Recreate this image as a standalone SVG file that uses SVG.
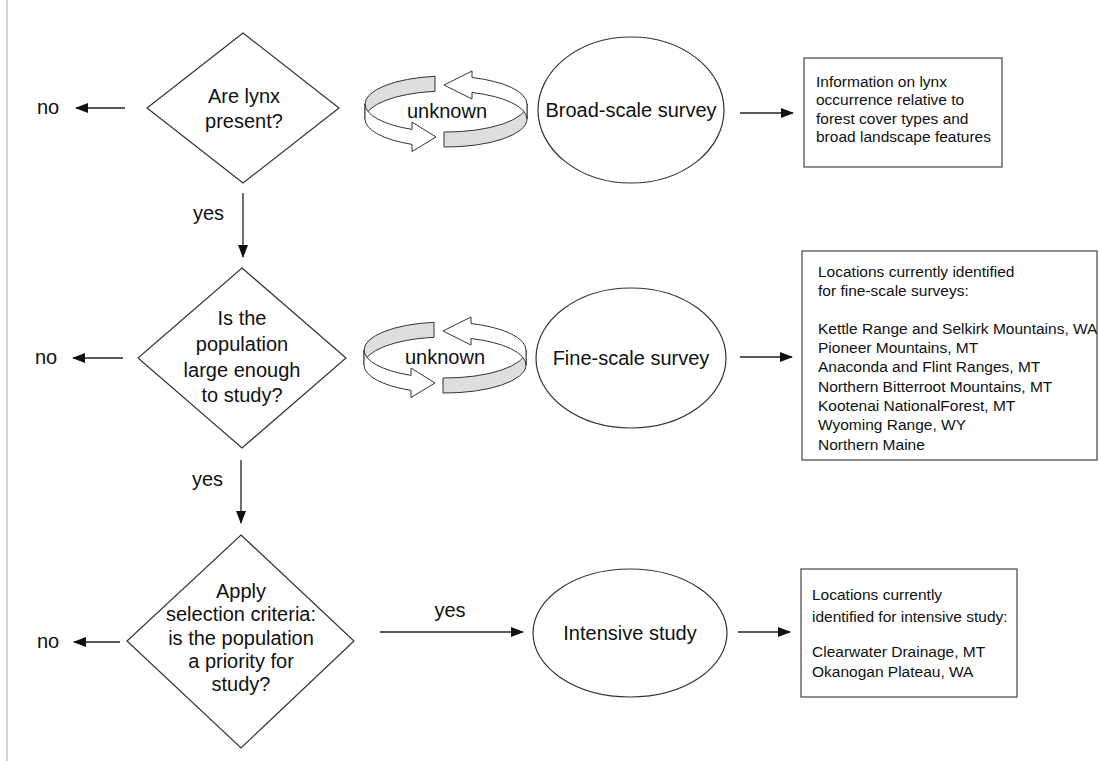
<svg xmlns="http://www.w3.org/2000/svg" xmlns:xlink="http://www.w3.org/1999/xlink" width="1099" height="761" viewBox="0 0 1099 761">
<style>
.shape{fill:#fff;stroke:#333;stroke-width:1.2}
.box{fill:#fff;stroke:#444;stroke-width:1.2}
.conn{stroke:#222;stroke-width:1.3;fill:none;marker-end:url(#ah)}
.t{font-family:"Liberation Sans",Arial,sans-serif;font-size:20px;fill:#111;text-anchor:middle}
.tl{font-family:"Liberation Sans",Arial,sans-serif;font-size:20px;fill:#111}
.bt{font-family:"Liberation Sans",Arial,sans-serif;font-size:15.5px;fill:#111}
.band{fill:#dedede;stroke:#333;stroke-width:1}
.arw{fill:#fff;stroke:#333;stroke-width:1}
</style>
<defs>
<marker id="ah" markerWidth="13" markerHeight="11" refX="12" refY="5" orient="auto" markerUnits="userSpaceOnUse">
<path d="M0,0 L13,5 L0,10 Z" fill="#111"/>
</marker>
<g id="ring">
<path class="band" d="M365,104 A81,28 0 0,1 435,76.3 L435,91.3 A81,28 0 0,0 365,119 Z"/>
<path class="band" d="M444,132 A81,28 0 0,0 527,104 L527,119 A81,28 0 0,1 444,147 Z"/>
<path class="arw" d="M444,85 L472,71 L472,77.5 A81,28 0 0,1 527,104 L527,119 A81,28 0 0,0 472,92.5 L472,99 Z"/>
<path class="arw" d="M365,104 A81,28 0 0,0 412,129.4 L412,122 L436,137 L412,151.5 L412,144.4 A81,28 0 0,1 365,119 Z"/>
</g>
</defs>
<rect width="1099" height="761" fill="#fff"/>
<line x1="7" y1="0" x2="7" y2="761" stroke="#c8c8c8" stroke-width="1.5"/>

<g id="connectors">
<line class="conn" x1="125" y1="108" x2="76" y2="108"/>
<line class="conn" x1="123" y1="358" x2="73" y2="358"/>
<line class="conn" x1="120" y1="642" x2="74" y2="642"/>
<line class="conn" x1="243" y1="193" x2="243" y2="257"/>
<line class="conn" x1="241" y1="460" x2="241" y2="523"/>
<line class="conn" x1="380" y1="632" x2="523" y2="632"/>
<line class="conn" x1="740" y1="113" x2="793" y2="113"/>
<line class="conn" x1="740" y1="357" x2="792" y2="357"/>
<line class="conn" x1="738" y1="632" x2="790" y2="632"/>
<text class="tl" x="37" y="114">no</text>
<text class="tl" x="35" y="364">no</text>
<text class="tl" x="37" y="648">no</text>
<text class="tl" x="193" y="220">yes</text>
<text class="tl" x="192" y="486">yes</text>
<text class="t" x="450" y="617">yes</text>
</g>

<g id="loop1">
<use xlink:href="#ring"/>
<text class="t" x="447" y="118">unknown</text>
</g>
<g id="loop2">
<use xlink:href="#ring" transform="translate(-1,246)"/>
<text class="t" x="445" y="364">unknown</text>
</g>

<g id="q1">
<polygon class="shape" points="243,33 339,108 243,183 147,108"/>
<text class="t" x="244" y="103">Are lynx</text>
<text class="t" x="244" y="128">present?</text>
</g>
<g id="q2">
<polygon class="shape" points="242,268 346,358 242,448 138,358"/>
<text class="t" x="242" y="325">Is the</text>
<text class="t" x="242" y="351">population</text>
<text class="t" x="242" y="377">large enough</text>
<text class="t" x="242" y="402">to study?</text>
</g>
<g id="q3">
<polygon class="shape" points="241,535 354,641 241,748 127,641"/>
<text class="t" x="241" y="598">Apply</text>
<text class="t" x="241" y="621">selection criteria:</text>
<text class="t" x="241" y="645">is the population</text>
<text class="t" x="241" y="668">a priority for</text>
<text class="t" x="241" y="691">study?</text>
</g>

<g id="broad">
<ellipse class="shape" cx="631" cy="110" rx="93" ry="73"/>
<text class="t" x="631" y="117">Broad-scale survey</text>
</g>
<g id="fine">
<ellipse class="shape" cx="631" cy="358" rx="95" ry="70"/>
<text class="t" x="631" y="365">Fine-scale survey</text>
</g>
<g id="intensive">
<ellipse class="shape" cx="630" cy="633" rx="97" ry="64"/>
<text class="t" x="630" y="640">Intensive study</text>
</g>

<g id="info1">
<rect class="box" x="804" y="58" width="198" height="109"/>
<text class="bt" x="816" y="87">Information on lynx</text>
<text class="bt" x="816" y="105">occurrence relative to</text>
<text class="bt" x="816" y="124">forest cover types and</text>
<text class="bt" x="816" y="142">broad landscape features</text>
</g>
<g id="info2">
<rect class="box" x="802" y="251" width="295" height="209"/>
<text class="bt" x="818" y="277">Locations currently identified</text>
<text class="bt" x="818" y="296">for fine-scale surveys:</text>
<text class="bt" x="818" y="334">Kettle Range and Selkirk Mountains, WA</text>
<text class="bt" x="818" y="353">Pioneer Mountains, MT</text>
<text class="bt" x="818" y="372">Anaconda and Flint Ranges, MT</text>
<text class="bt" x="818" y="392">Northern Bitterroot Mountains, MT</text>
<text class="bt" x="818" y="411">Kootenai NationalForest, MT</text>
<text class="bt" x="818" y="430">Wyoming Range, WY</text>
<text class="bt" x="818" y="450">Northern Maine</text>
</g>
<g id="info3">
<rect class="box" x="801" y="569" width="216" height="128"/>
<text class="bt" x="812" y="600">Locations currently</text>
<text class="bt" x="812" y="622">identified for intensive study:</text>
<text class="bt" x="812" y="657">Clearwater Drainage, MT</text>
<text class="bt" x="812" y="677">Okanogan Plateau, WA</text>
</g>
</svg>
